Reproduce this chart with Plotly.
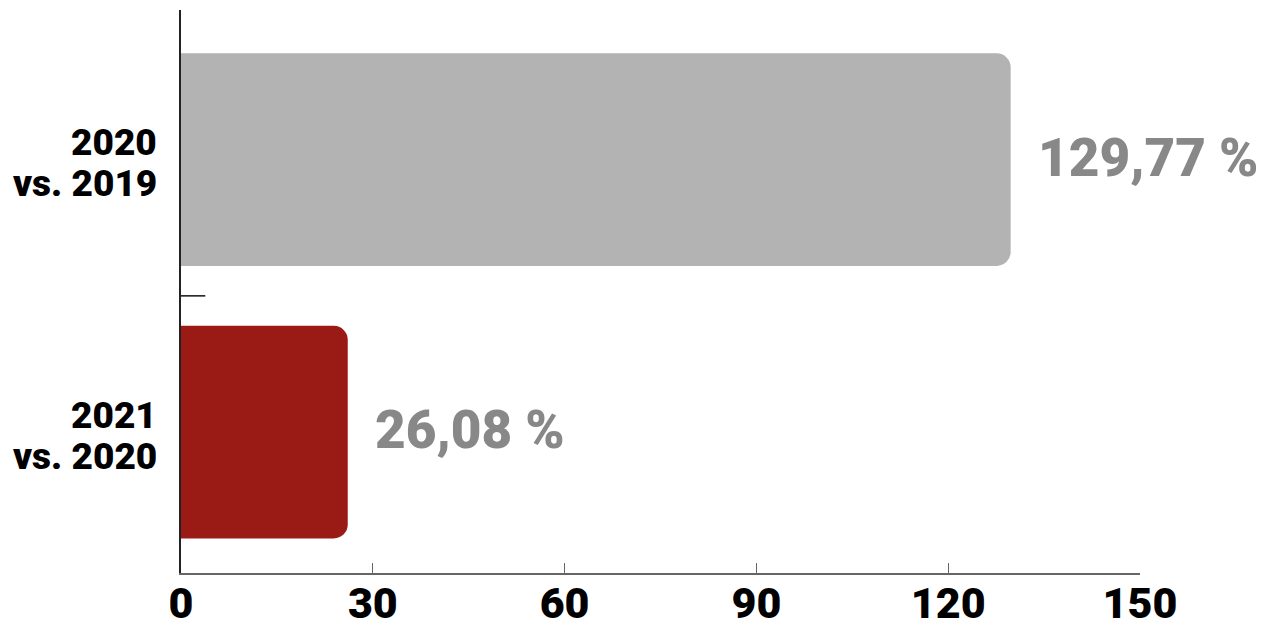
import plotly.graph_objects as go

# データ
categories = ["2021<br>vs. 2020", "2020<br>vs. 2019"]
values = [26.08, 129.77]
colors = ["#9a1a16", "#b3b3b3"]
labels = [f"{v:.2f}".replace(".", ",") + " %" for v in values]
x_ticks = [0, 30, 60, 90, 120, 150]

fig = go.Figure()

fig.add_trace(go.Bar(
    y=categories,
    x=values,
    orientation="h",
    marker=dict(color=colors, cornerradius=14, line=dict(width=0)),
    width=0.78,
    hoverinfo="skip",
))

# 値のラベル
for cat, v, lab in zip(categories, values, labels):
    fig.add_annotation(
        x=v, y=cat, text=lab, showarrow=False,
        xanchor="left", yanchor="middle", xshift=25, yshift=2,
        font=dict(family="Roboto", size=53, color="#888888", weight=900),
    )

# カテゴリ名（行間を詰めるため1行ずつ配置）
for cat in categories:
    line1, line2 = cat.split("<br>")
    for txt, dy in [(line1, 17), (line2, -24)]:
        fig.add_annotation(
            xref="paper", x=0, y=cat, text=txt, showarrow=False,
            xanchor="right", yanchor="middle", xshift=-22, yshift=dy,
            font=dict(family="Roboto", size=37, color="#000000", weight=900),
        )

# カテゴリ間の目盛り
fig.add_shape(
    type="line", xref="x", yref="y",
    x0=0, x1=3.8, y0=0.5, y1=0.5,
    line=dict(color="#111111", width=1.5),
)

fig.update_xaxes(
    range=[0, 150],
    tickvals=x_ticks,
    showgrid=False,
    zeroline=False,
    showline=True,
    linecolor="#666666",
    linewidth=1.5,
    ticks="inside",
    ticklen=10,
    tickcolor="#666666",
    ticklabelstandoff=-8,
    automargin=False,
    tickfont=dict(family="Roboto", size=43, color="#000000", weight=900),
)

fig.update_yaxes(
    range=[-0.517, 1.549],
    showgrid=False,
    zeroline=False,
    showline=True,
    linecolor="#222222",
    linewidth=1.5,
    ticks="",
    showticklabels=False,
    automargin=False,
)

# レイアウト（ページの余白 8px を差し引く）
fig.update_layout(
    width=1259,
    height=620,
    margin=dict(l=173, r=127, t=2, b=55),
    plot_bgcolor="white",
    paper_bgcolor="white",
    showlegend=False,
)

fig.write_html("out.html")
